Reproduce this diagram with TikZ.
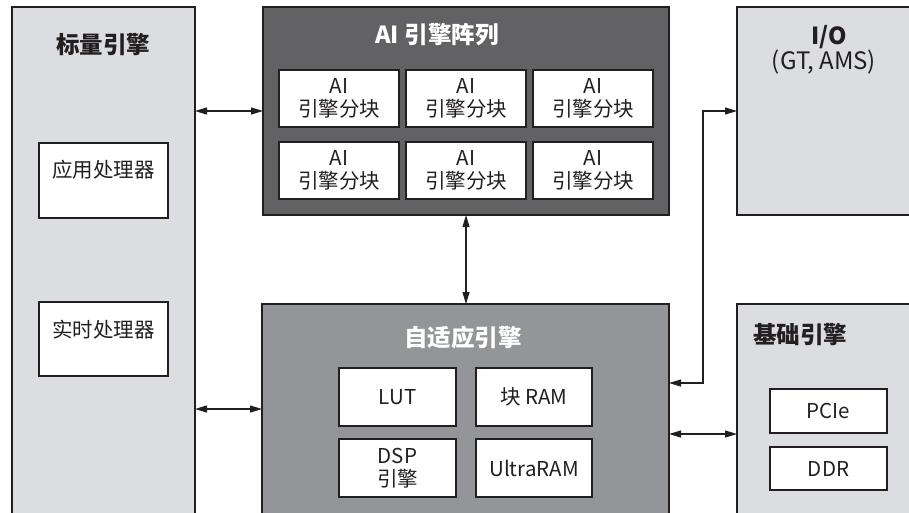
\documentclass[tikz,border=0pt]{standalone}
\usepackage{fontspec}
\setmainfont{Noto Sans CJK SC}
\usetikzlibrary{arrows.meta}
\definecolor{bordc}{HTML}{231F20}
\definecolor{lightg}{HTML}{DCDDE0}
\definecolor{darkg}{HTML}{626264}
\definecolor{midg}{HTML}{939598}
\begin{document}
\begin{tikzpicture}[x=1pt,y=-1pt,
  box/.style={draw=bordc, line width=2pt, inner sep=0pt, outer sep=0pt, anchor=north west},
  inbox/.style={box, fill=white, align=center, font=\fontsize{20.5}{23}\selectfont, text=bordc},
  ttl/.style={font=\bfseries\fontsize{23.5}{28}\selectfont, inner sep=0pt},
  lbl/.style={font=\fontsize{20.5}{23}\selectfont, inner sep=0pt, text=bordc},
  dbl/.style={{Triangle[length=12pt,width=7pt]}-{Triangle[length=12pt,width=7pt]}, line width=1.1pt, draw=bordc}]
\useasboundingbox (0,0) rectangle (909,512);
\clip (0,0) rectangle (909,512);
\fill[white] (0,0) rectangle (909,512);
% main blocks
\node[box, fill=lightg, minimum width=183pt, minimum height=540pt] (scalar) at (12,7) {};
\node[box, fill=darkg, minimum width=406pt, minimum height=208pt] (ai) at (263,7) {};
\node[box, fill=midg, minimum width=407pt, minimum height=210pt] (adapt) at (262,304) {};
\node[box, fill=lightg, minimum width=200pt, minimum height=208pt] (io) at (737,7) {};
\node[box, fill=lightg, minimum width=200pt, minimum height=260pt] (base) at (737,304) {};
% titles
\node[ttl, text=bordc] (scalart) at (103,45) {标量引擎};
\node[ttl, text=white] (ait) at (437,35) {AI 引擎阵列};
\node[ttl, text=white] (adaptt) at (463,338) {自适应引擎};
\node[ttl, text=bordc] (iot) at (829,37) {I/O};
\node[lbl, font=\fontsize{24}{28}\selectfont] (iosub) at (824,62) {(GT, AMS)};
\node[ttl, text=bordc] (baset) at (800,335) {基础引擎};
% scalar inner
\node[box, fill=white, minimum width=129pt, minimum height=75pt] (ap) at (39,143) {};
\node[lbl] (apt) at ([yshift=10.5pt]ap.center) {应用处理器};
\node[box, fill=white, minimum width=129pt, minimum height=74pt] (rt) at (39,302) {};
\node[lbl] (rtt) at ([yshift=9pt]rt.center) {实时处理器};
% AI tiles
\node[inbox, minimum width=120pt, minimum height=57pt] (t11) at (279,70) {AI\\引擎分块};
\node[inbox, minimum width=120pt, minimum height=57pt] (t12) at (406,70) {AI\\引擎分块};
\node[inbox, minimum width=120pt, minimum height=57pt] (t13) at (533,70) {AI\\引擎分块};
\node[inbox, minimum width=120pt, minimum height=57pt] (t21) at (279,142) {AI\\引擎分块};
\node[inbox, minimum width=120pt, minimum height=57pt] (t22) at (406,142) {AI\\引擎分块};
\node[inbox, minimum width=120pt, minimum height=57pt] (t23) at (533,142) {AI\\引擎分块};
% adaptive inner
\node[inbox, minimum width=117pt, minimum height=58pt] (lut) at (339,368) {LUT};
\node[inbox, minimum width=116pt, minimum height=58pt] (bram) at (476,368) {块 RAM};
\node[inbox, minimum width=117pt, minimum height=58pt] (dsp) at (339,439) {DSP\\引擎};
\node[inbox, minimum width=116pt, minimum height=58pt] (uram) at (476,439) {UltraRAM};
% base inner
\node[inbox, minimum width=117pt, minimum height=44pt] (pcie) at (770,389) {PCIe};
\node[inbox, minimum width=117pt, minimum height=43pt] (ddr) at (770,447) {DDR};
% connectors
\draw[dbl] (scalar.east |- ai.west) -- (ai.west);
\draw[dbl] (scalar.east |- adapt.west) -- (adapt.west);
\draw[dbl] (ai.south) -- (ai.south |- adapt.north);
\draw[dbl] (adapt.east |- base.west) -- (base.west);
\coordinate (bend) at (703,111);
\draw[dbl] ([yshift=26pt]adapt.east) -| (bend) -- (io.west);
\end{tikzpicture}
\end{document}
